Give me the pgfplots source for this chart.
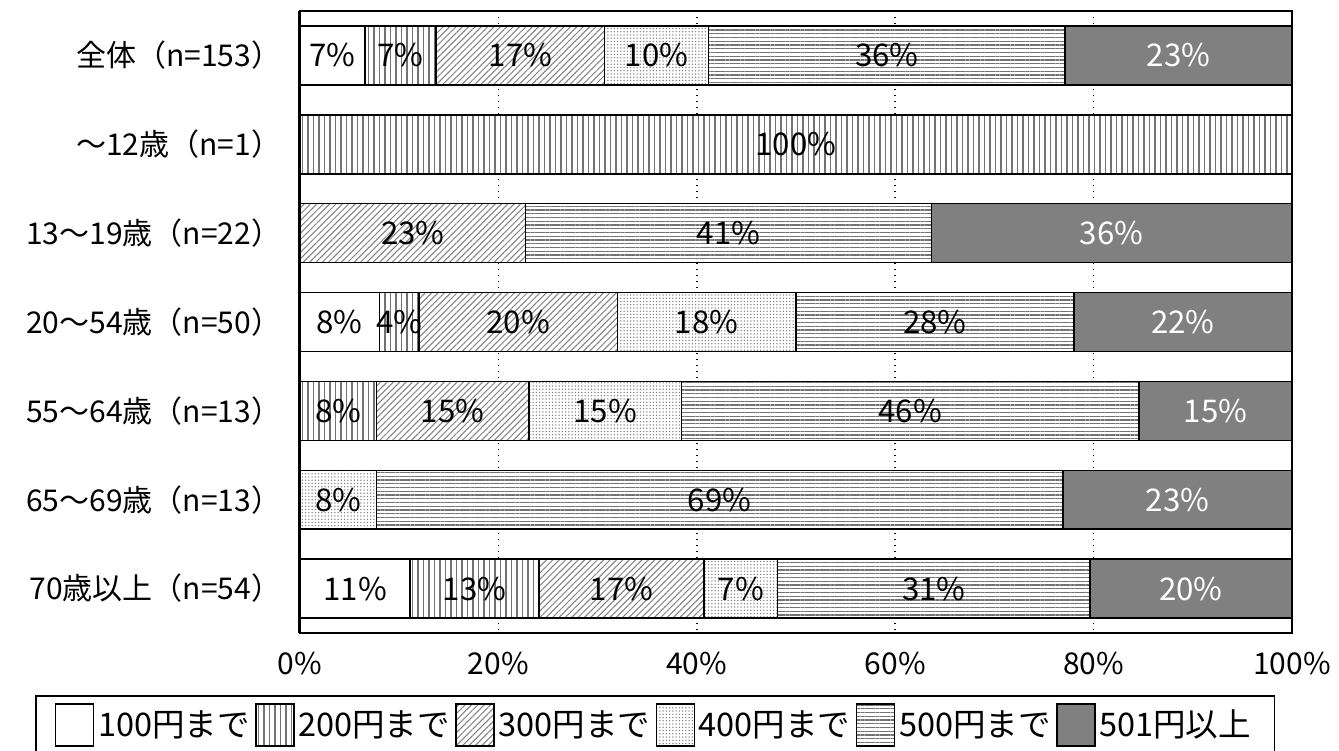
\documentclass[border=0pt]{standalone}
\usepackage{fontspec}
\setmainfont{Noto Sans CJK JP}
\usepackage{pgfplots}
\pgfplotsset{compat=1.18}
\usepackage{pgfplotstable}
\usetikzlibrary{patterns.meta}

% y: 0 = 全体 ... 6 = 70歳以上 ; v = share in % ; lab = printed label
\pgfplotstableread{
y v lab
0 6.54 7
1 0 0
2 0 0
3 8 8
4 0 0
5 0 0
6 11.11 11
}\sA
\pgfplotstableread{
y v lab
0 7.19 7
1 100 100
2 0 0
3 4 4
4 7.69 8
5 0 0
6 12.96 13
}\sB
\pgfplotstableread{
y v lab
0 16.99 17
1 0 0
2 22.73 23
3 20 20
4 15.38 15
5 0 0
6 16.67 17
}\sC
\pgfplotstableread{
y v lab
0 10.46 10
1 0 0
2 0 0
3 18 18
4 15.38 15
5 7.69 8
6 7.41 7
}\sD
\pgfplotstableread{
y v lab
0 35.95 36
1 0 0
2 40.91 41
3 28 28
4 46.15 46
5 69.23 69
6 31.48 31
}\sE
\pgfplotstableread{
y v lab
0 22.88 23
1 0 0
2 36.36 36
3 22 22
4 15.38 15
5 23.08 23
6 20.37 20
}\sF

\begin{document}
\begin{tikzpicture}
\begin{axis}[
  at={(0pt,0pt)}, anchor=south west,
  scale only axis, width=396.8pt, height=248.8pt,
  xbar stacked, bar width=0.663, clip=false,
  xmin=0, xmax=100, ymin=-0.5, ymax=6.5, y dir=reverse,
  xtick={0,20,...,100}, xticklabel={\pgfmathprintnumber{\tick}\%},
  ytick={0,...,6},
  yticklabels={全体（n=153）,～12歳（n=1）,13～19歳（n=22）,20～54歳（n=50）,55～64歳（n=13）,65～69歳（n=13）,70歳以上（n=54）},
  major tick length=0pt,
  xmajorgrids, major grid style={black, dotted, line width=0.6pt},
  axis line style={line width=0.6pt},
  /pgf/number format/assume math mode=true,
  ticklabel style={font=\fontsize{12}{14}\selectfont},
  yticklabel style={xshift=-4pt},
  xticklabel style={yshift=-4pt},
  point meta=explicit,
  nodes near coords={\pgfmathfloatifflags{\pgfplotspointmeta}{0}{}{\pgfmathprintnumber{\pgfplotspointmeta}\%}},
  every node near coord/.append style={anchor=center, font=\fontsize{12.5}{14}\selectfont, text=black, inner sep=0pt},
  legend image code/.code={\draw[#1] (0pt,-8.4pt) rectangle (15.2pt,8.4pt);},
  legend columns=6,
  legend cell align=left,
  legend style={at={(-0.2671,-0.1)}, anchor=north west, draw=black, line width=0.6pt,
    inner xsep=7.6pt, inner ysep=3pt,
    nodes={inner sep=0.5pt, font=\fontsize{13}{15}\selectfont},
    /tikz/every odd column/.style={column sep=1pt},
    /tikz/every even column/.style={column sep=5.3pt}},
]
\addplot[draw=black, line width=0.6pt, fill=white] table[x=v,y=y,meta=lab]{\sA};
\addlegendentry{\makebox[57pt][l]{100円まで}}
\addplot[draw=black, line width=0.6pt, fill=white,
  postaction={pattern color=black!55, pattern={Lines[angle=90,distance=2.2pt,line width=0.5pt]}}]
  table[x=v,y=y,meta=lab]{\sB};
\addlegendentry{\makebox[57pt][l]{200円まで}}
\addplot[draw=black, line width=0.6pt, fill=white,
  postaction={pattern color=black!50, pattern={Lines[angle=45,distance=1.8pt,line width=0.4pt]}}]
  table[x=v,y=y,meta=lab]{\sC};
\addlegendentry{\makebox[57pt][l]{300円まで}}
\addplot[draw=black, line width=0.6pt, fill=white,
  postaction={pattern color=black!50, pattern={Dots[distance=1.3pt,radius=0.3pt]}}]
  table[x=v,y=y,meta=lab]{\sD};
\addlegendentry{\makebox[57pt][l]{400円まで}}
\addplot[draw=black, line width=0.6pt, fill=white,
  postaction={pattern color=black!55, pattern={Lines[angle=0,distance=1.5pt,line width=0.45pt]}}]
  table[x=v,y=y,meta=lab]{\sE};
\addlegendentry{\makebox[57pt][l]{500円まで}}
\addplot[draw=black, line width=0.6pt, fill=black!50,
  every node near coord/.append style={text=white}]
  table[x=v,y=y,meta=lab]{\sF};
\addlegendentry{\makebox[62pt][l]{501円以上}}
\draw[line width=1.2pt] (rel axis cs:0,0) -- (rel axis cs:0,1);
\end{axis}
\pgfresetboundingbox
\path[use as bounding box] (-120pt,-46.8pt) rectangle (415.6pt,253.2pt);
\end{tikzpicture}
\end{document}
